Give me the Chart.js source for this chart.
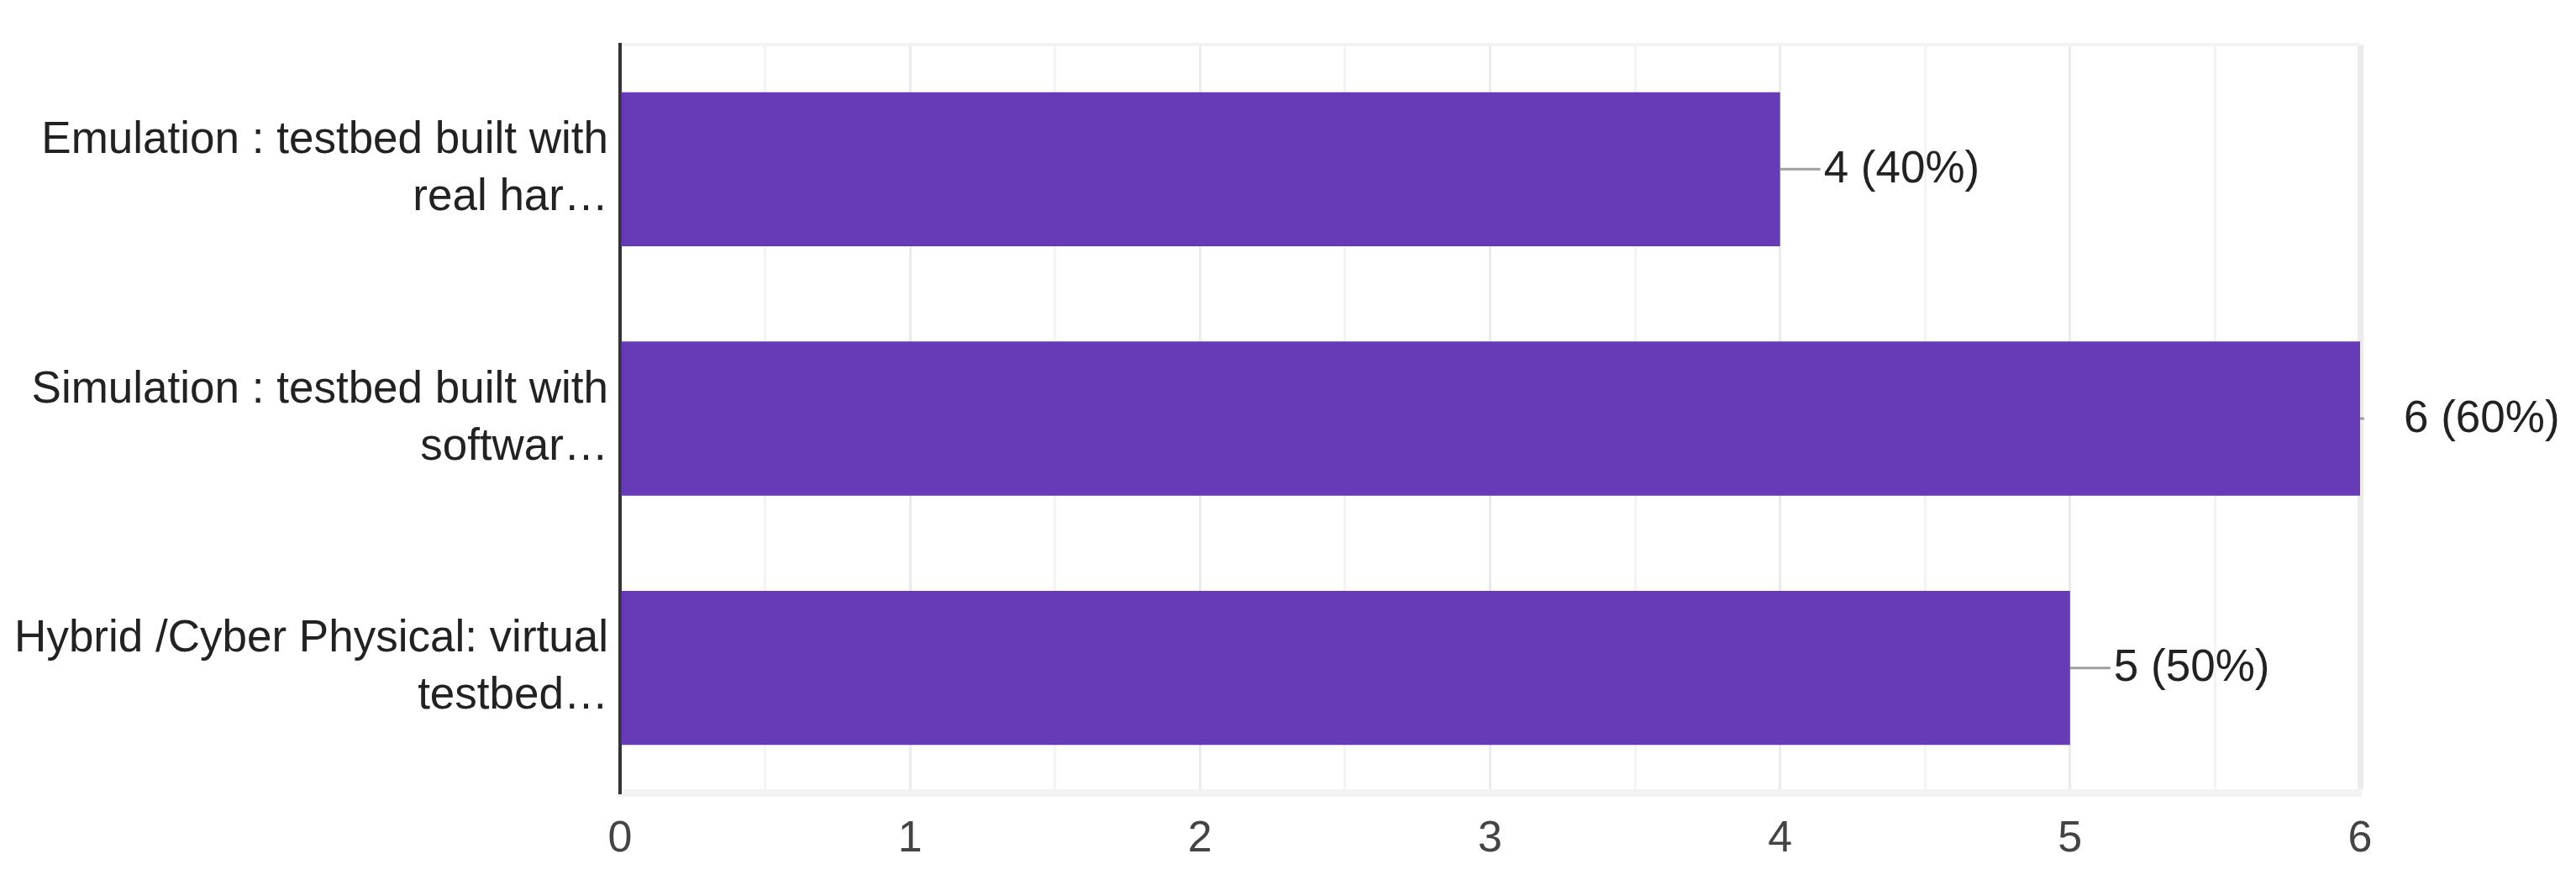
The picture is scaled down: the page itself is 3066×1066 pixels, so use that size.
<!DOCTYPE html>
<html>
<head>
<meta charset="utf-8">
<script src="https://cdn.jsdelivr.net/npm/chart.js@4.4.1/dist/chart.umd.min.js"></script>
<style>
  html, body { margin: 0; padding: 0; background: #ffffff; }
  #wrap { width: 3066px; height: 1066px; position: relative; }
</style>
</head>
<body>
<div id="wrap"><canvas id="c"></canvas></div>
<script>
// ---- data ----
const categories = [
  ["Emulation : testbed built with", "real har\u2026"],
  ["Simulation : testbed built with", "softwar\u2026"],
  ["Hybrid /Cyber Physical: virtual", "testbed\u2026"]
];
const counts = [4, 6, 5];
const totalResponses = 10;
const xTicks = [0, 1, 2, 3, 4, 5, 6];

const FONT = "'Liberation Sans', Arial, sans-serif";
const AXIS_MAX = xTicks[xTicks.length - 1];

const dataLabelPlugin = {
  id: 'dataLabels',
  afterDatasetsDraw(chart) {
    const ctx = chart.ctx;
    const meta = chart.getDatasetMeta(0);
    ctx.save();
    meta.data.forEach((el, i) => {
      const v = counts[i];
      const pct = Math.round(v / totalResponses * 100);
      const x = el.x, y = el.y;
      const lead = v >= AXIS_MAX ? 5 : 48;
      ctx.strokeStyle = '#9e9e9e';
      ctx.lineWidth = 3;
      ctx.beginPath();
      ctx.moveTo(x, y);
      ctx.lineTo(x + lead, y);
      ctx.stroke();
      ctx.fillStyle = '#222222';
      ctx.font = '53px ' + FONT;
      ctx.textAlign = 'left';
      ctx.textBaseline = 'middle';
      ctx.fillText(v + ' (' + pct + '%)', x + 52, y + 1);
    });
    ctx.restore();
  }
};

new Chart(document.getElementById('c'), {
  type: 'bar',
  data: {
    labels: categories,
    datasets: [{
      data: counts,
      backgroundColor: '#673ab7',
      borderWidth: 0,
      barPercentage: 0.618,
      categoryPercentage: 1.0
    }]
  },
  options: {
    indexAxis: 'y',
    responsive: true,
    maintainAspectRatio: false,
    devicePixelRatio: 1,
    animation: false,
    layout: { padding: { top: 53, right: 257, left: 0, bottom: 0 } },
    plugins: { legend: { display: false }, tooltip: { enabled: false } },
    scales: {
      x: {
        type: 'linear',
        min: 0,
        max: AXIS_MAX,
        afterFit(scale) { scale.height = 123; scale.paddingLeft = 0; scale.paddingRight = 0; },
        ticks: {
          stepSize: 0.5,
          autoSkip: false,
          maxRotation: 0,
          padding: 24,
          color: '#444444',
          font: { family: FONT, size: 52 },
          callback: (v) => (xTicks.includes(v) ? String(v) : '')
        },
        grid: {
          drawTicks: false,
          color: (c) => {
            const v = c.tick ? c.tick.value : null;
            if (v === 0) return 'rgba(0,0,0,0)';
            return Number.isInteger(v) ? '#ebebeb' : '#f4f4f4';
          },
          lineWidth: (c) => (c.tick && c.tick.value === AXIS_MAX ? 7 : 3)
        },
        border: { display: true, color: '#f3f3f3', width: 9 }
      },
      y: {
        type: 'category',
        afterFit(scale) { scale.width = 738; scale.paddingTop = 0; scale.paddingBottom = 0; },
        ticks: {
          padding: 14,
          color: '#222222',
          font: { family: FONT, size: 53, lineHeight: 1.283 }
        },
        grid: {
          drawTicks: false,
          offset: true,
          lineWidth: 4,
          color: (c) => (c.index === 0 ? '#f3f3f3' : 'rgba(0,0,0,0)')
        },
        border: { display: true, color: '#333333', width: 4 }
      }
    }
  },
  plugins: [dataLabelPlugin]
});
</script>
</body>
</html>
